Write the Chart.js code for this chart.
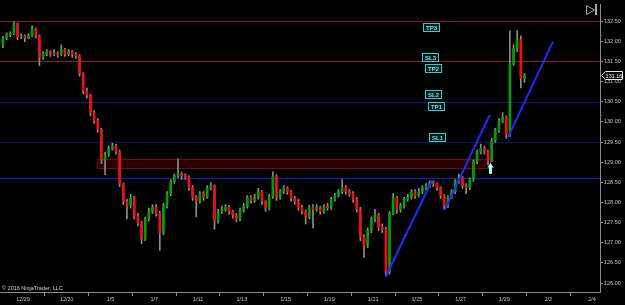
<!DOCTYPE html>
<html>
<head>
<meta charset="utf-8">
<script src="https://cdn.jsdelivr.net/npm/chart.js@4.4.0/dist/chart.umd.min.js"></script>
<style>
html, body { margin: 0; padding: 0; background: #000; }
canvas { display: block; }
</style>
</head>
<body>
<canvas id="c" width="625" height="305"></canvas>
<script>
/* price bars (one bar ~ 1/6 of a trading day) */
var opens = [131.89,132.08,132.16,132.18,132.43,132.11,132.13,132.08,132.13,132.30,
 132.13,131.60,131.69,131.74,131.69,131.72,131.67,131.79,131.69,131.74,
 131.67,131.64,131.20,130.76,130.67,130.23,130.03,129.81,129.05,129.20,
 129.35,129.40,129.25,128.47,128.03,127.91,128.13,127.66,127.49,127.10,
 127.59,127.78,127.88,127.73,127.25,127.91,128.22,128.52,128.66,128.71,
 128.66,128.64,128.37,128.13,128.03,128.22,128.13,128.37,128.42,127.54,
 127.78,127.83,127.88,127.78,127.69,127.59,127.81,127.91,128.13,128.05,
 128.13,128.27,128.03,127.86,128.15,128.66,128.13,128.27,128.35,128.27,
 128.10,128.03,127.88,127.78,127.64,127.88,127.83,127.88,127.78,127.91,
 127.88,128.08,128.17,128.27,128.37,128.27,128.22,128.08,127.83,127.15,
 126.93,127.30,127.59,127.69,127.39,127.34,126.27,127.73,128.13,127.83,
 127.91,128.08,128.13,128.27,128.17,128.27,128.37,128.42,128.49,128.47,
 128.37,128.17,127.93,128.13,128.27,128.52,128.61,128.42,128.37,128.57,
 129.01,129.25,129.35,129.27,129.05,129.54,129.79,130.03,130.13,129.69,
 131.45,131.82,132.04,131.08];
var highs = [132.12,132.21,132.23,132.48,132.45,132.18,132.16,132.18,132.38,132.33,
 132.16,131.74,131.79,131.77,131.79,131.74,131.91,131.82,131.79,131.77,
 131.72,131.67,131.22,130.84,130.69,130.28,130.08,129.84,129.25,129.40,
 129.47,129.45,129.30,128.49,128.08,128.20,128.15,127.73,127.54,127.64,
 127.86,127.95,127.95,127.78,127.98,128.27,128.57,128.71,129.08,128.76,
 128.71,128.66,128.42,128.17,128.27,128.27,128.42,128.49,128.44,127.83,
 127.91,127.95,127.93,127.81,127.73,127.86,127.98,128.17,128.17,128.20,
 128.35,128.30,128.05,128.20,128.76,128.69,128.32,128.42,128.39,128.30,
 128.15,128.08,127.93,127.81,127.93,127.95,127.95,127.91,127.95,127.98,
 128.13,128.22,128.32,128.57,128.42,128.32,128.27,128.13,127.88,127.20,
 127.37,127.64,127.83,127.73,127.47,127.39,127.78,128.22,128.15,127.98,
 128.13,128.20,128.32,128.32,128.35,128.42,128.47,128.54,128.54,128.49,
 128.39,128.20,128.17,128.32,128.57,128.71,128.64,128.47,128.61,129.05,
 129.30,129.45,129.40,129.30,129.59,129.84,130.08,130.23,130.15,132.26,
 131.91,132.26,132.13,131.20];
var lows = [131.84,132.04,132.11,132.16,132.04,132.06,131.99,132.06,132.11,132.08,
 131.40,131.55,131.64,131.62,131.64,131.60,131.64,131.62,131.64,131.60,
 131.57,131.13,130.69,130.59,130.15,129.96,129.74,128.96,128.69,129.15,
 129.30,129.20,128.39,127.95,127.59,127.86,127.59,127.42,126.98,127.05,
 127.54,127.73,127.66,126.81,127.20,127.86,128.17,128.47,128.61,128.57,
 128.57,128.30,128.05,127.64,127.98,128.05,128.10,128.32,127.34,127.49,
 127.73,127.78,127.71,127.61,127.52,127.54,127.76,127.86,127.98,128.00,
 128.08,127.95,127.78,127.81,128.10,128.05,128.08,128.22,128.20,128.03,
 127.95,127.81,127.71,127.47,127.59,127.37,127.78,127.71,127.73,127.81,
 127.83,128.03,128.13,128.22,128.20,128.15,128.00,127.76,127.05,126.64,
 126.88,127.25,127.52,127.30,127.25,126.17,126.22,127.69,127.73,127.76,
 127.86,128.03,128.08,128.10,128.13,128.22,128.32,128.37,128.39,128.30,
 128.10,127.83,127.88,128.10,128.22,128.47,128.35,128.22,128.32,128.52,
 128.96,129.20,129.20,128.93,129.01,129.49,129.74,129.98,129.59,129.64,
 131.40,131.74,130.84,130.98];
var closes = [132.08,132.16,132.18,132.43,132.11,132.13,132.08,132.13,132.30,132.13,
 131.60,131.69,131.74,131.69,131.72,131.67,131.79,131.69,131.74,131.67,
 131.64,131.20,130.76,130.67,130.23,130.03,129.81,129.05,129.20,129.35,
 129.40,129.25,128.47,128.03,127.91,128.13,127.66,127.49,127.10,127.59,
 127.78,127.88,127.73,127.25,127.91,128.22,128.52,128.66,128.71,128.66,
 128.64,128.37,128.13,128.03,128.22,128.13,128.37,128.42,127.54,127.78,
 127.83,127.88,127.78,127.69,127.59,127.81,127.91,128.13,128.05,128.13,
 128.27,128.03,127.86,128.15,128.66,128.13,128.27,128.35,128.27,128.10,
 128.03,127.88,127.78,127.64,127.88,127.83,127.88,127.78,127.91,127.88,
 128.08,128.17,128.27,128.37,128.27,128.22,128.08,127.83,127.15,126.93,
 127.30,127.59,127.69,127.39,127.34,126.27,127.73,128.13,127.83,127.91,
 128.08,128.13,128.27,128.17,128.27,128.37,128.42,128.49,128.47,128.37,
 128.17,127.93,128.13,128.27,128.52,128.61,128.42,128.37,128.57,129.01,
 129.25,129.35,129.27,129.05,129.54,129.79,130.03,130.13,129.69,131.45,
 131.82,132.04,131.08,131.16];

/* axis labels */
var dateLabels = ["12/29","12/31","1/5","1/7","1/11","1/13","1/15","1/19","1/21","1/25","1/27","1/29","2/2","2/4"];
var yTicks = [126, 126.5, 127, 127.5, 128, 128.5, 129, 129.5, 130, 130.5, 131, 131.5, 132, 132.5];

/* drawing objects (bar index, price) */
var levelPrices = [132.5, 131.5, 130.5, 129.5, 128.6];
var levelColors = ["#861828", "#9a1426", "#14148e", "#0e0e6e", "#1616d8"];
var zoneBars = [25.8, 133.5];
var zonePrices = [128.86, 129.08];
var trendStart = [[105.0, 126.17], [121.2, 127.83], [138.5, 129.62]];
var trendEnd = [[117.6, 128.54], [133.5, 130.18], [150.8, 131.99]];
var tagNames = ["TP3", "SL3", "TP2", "SL2", "TP1", "SL1"];
var tagBars = [117.4, 117.1, 117.8, 117.9, 118.6, 119.0];
var tagPrices = [132.34, 131.62, 131.33, 130.69, 130.39, 129.63];
var signalBar = 133.5;
var signalPrices = [128.71, 128.98];
var lastPrice = 131.16;

var FONT = "Liberation Sans";
var BARS_PER_DAY = 6, FIRST_DAY_BAR = 5.5;

var wickData = closes.map(function(c, i) { return { x: i, y: [lows[i], highs[i]] }; });
var bodyData = closes.map(function(c, i) { return { x: i, y: [opens[i], c] }; });
var bodyColors = closes.map(function(c, i) { return c >= opens[i] ? "#00a000" : "#f01010"; });

var overlay = {
  id: "overlay",
  beforeDraw: function(ch) {
    var c = ch.ctx;
    c.save();
    c.fillStyle = "#000";
    c.fillRect(0, 0, ch.width, ch.height);
    c.restore();
  },
  beforeDatasetsDraw: function(ch) {
    var c = ch.ctx, xs = ch.scales.x, ys = ch.scales.y, a = ch.chartArea;
    c.save();
    // zone
    var zx0 = xs.getPixelForValue(zoneBars[0]), zx1 = xs.getPixelForValue(zoneBars[1]);
    var zy0 = ys.getPixelForValue(zonePrices[1]), zy1 = ys.getPixelForValue(zonePrices[0]);
    c.fillStyle = "#2c0000";
    c.fillRect(zx0, zy0, zx1 - zx0, zy1 - zy0);
    c.strokeStyle = "#740c0c";
    c.lineWidth = 1;
    c.strokeRect(Math.round(zx0) + .5, Math.round(zy0) + .5, Math.round(zx1 - zx0), Math.round(zy1 - zy0));
    // levels
    levelPrices.forEach(function(p, i) {
      var y = Math.round(ys.getPixelForValue(p)) + .5;
      c.strokeStyle = levelColors[i];
      c.lineWidth = 1;
      c.beginPath();
      c.moveTo(a.left, y);
      c.lineTo(a.right, y);
      c.stroke();
    });
    c.restore();
  },
  afterDatasetsDraw: function(ch) {
    var c = ch.ctx, xs = ch.scales.x, ys = ch.scales.y;
    c.save();
    // trend lines
    c.strokeStyle = "#1e2cff";
    c.lineWidth = 2;
    trendStart.forEach(function(s, i) {
      var e = trendEnd[i];
      c.beginPath();
      c.moveTo(xs.getPixelForValue(s[0]), ys.getPixelForValue(s[1]));
      c.lineTo(xs.getPixelForValue(e[0]), ys.getPixelForValue(e[1]));
      c.stroke();
    });
    // target / stop tags
    c.font = "bold 6px " + FONT;
    c.textAlign = "center";
    c.textBaseline = "middle";
    tagNames.forEach(function(t, i) {
      var x = Math.round(xs.getPixelForValue(tagBars[i])), y = Math.round(ys.getPixelForValue(tagPrices[i]));
      c.fillStyle = "#031212";
      c.fillRect(x - 8, y - 4, 17, 9);
      c.strokeStyle = "#22d6d6";
      c.lineWidth = 1;
      c.strokeRect(x - 8 + .5, y - 4 + .5, 16, 8);
      c.fillStyle = "#5ff0f0";
      c.fillText(t, x + .5, y + 1);
    });
    // signal arrow
    var ax = Math.round(xs.getPixelForValue(signalBar));
    var ay0 = ys.getPixelForValue(signalPrices[0]), ay1 = ys.getPixelForValue(signalPrices[1]);
    c.fillStyle = "#b0ffff";
    c.fillRect(ax - 1, ay1 + 4, 3, ay0 - ay1 - 4);
    c.beginPath();
    c.moveTo(ax + .5, ay1);
    c.lineTo(ax + 3.5, ay1 + 4.5);
    c.lineTo(ax - 2.5, ay1 + 4.5);
    c.closePath();
    c.fill();
    c.restore();
  },
  afterDraw: function(ch) {
    var c = ch.ctx, ys = ch.scales.y, a = ch.chartArea;
    c.save();
    // last price marker
    var py = Math.round(ys.getPixelForValue(lastPrice)) + .5;
    var px = a.right + 1.5;
    c.beginPath();
    c.moveTo(px, py);
    c.lineTo(px + 4, py - 4);
    c.lineTo(px + 21, py - 4);
    c.lineTo(px + 21, py + 4);
    c.lineTo(px + 4, py + 4);
    c.closePath();
    c.fillStyle = "#000";
    c.fill();
    c.strokeStyle = "#e6e6e6";
    c.lineWidth = 1;
    c.stroke();
    c.fillStyle = "#ffffff";
    c.font = "5.5px " + FONT;
    c.textAlign = "center";
    c.textBaseline = "middle";
    c.fillText(lastPrice.toFixed(2), px + 12.5, py + .5);
    // scroll-to-end icon
    c.strokeStyle = "#a8a8a8";
    c.lineWidth = 1;
    c.beginPath();
    c.moveTo(586.5, 5.5);
    c.lineTo(594.5, 10);
    c.lineTo(586.5, 14.5);
    c.closePath();
    c.stroke();
    c.fillStyle = "#a8a8a8";
    c.fillRect(595, 4, 2, 11);
    // copyright
    c.fillStyle = "#d0d0d0";
    c.font = "5.5px " + FONT;
    c.textAlign = "left";
    c.textBaseline = "alphabetic";
    c.fillText("\u00a9 2016 NinjaTrader, LLC", 2, 290);
    c.restore();
  }
};

new Chart(document.getElementById("c"), {
  type: "bar",
  data: {
    datasets: [{
      data: wickData,
      backgroundColor: "#8c8c8c",
      barThickness: 1,
      grouped: false,
      order: 2
    }, {
      data: bodyData,
      backgroundColor: bodyColors,
      barThickness: 2,
      minBarLength: 1,
      grouped: false,
      order: 1
    }]
  },
  options: {
    responsive: false,
    animation: false,
    devicePixelRatio: 1,
    layout: { padding: 0 },
    scales: {
      x: {
        type: "linear",
        offset: false,
        min: -0.81,
        max: 163.7,
        afterBuildTicks: function(s) {
          var t = [];
          for (var k = 0; k <= (dateLabels.length - 1) * 2; k++) t.push({ value: FIRST_DAY_BAR + k * BARS_PER_DAY });
          s.ticks = t;
        },
        afterFit: function(s) { s.height = 13; },
        ticks: {
          autoSkip: false,
          maxRotation: 0,
          padding: 0,
          color: "#c4c4c4",
          font: { size: 5.5, family: FONT },
          callback: function(v, i) { return i % 2 === 0 ? dateLabels[i / 2] : ""; }
        },
        grid: {
          offset: false,
          drawOnChartArea: false,
          tickLength: 4,
          color: function(ctx) { return ctx.index % 2 ? "#8c8c8c" : "rgba(0,0,0,0)"; }
        },
        border: { color: "#8c8c8c" }
      },
      y: {
        type: "linear",
        position: "right",
        min: 125.78,
        max: 132.915,
        afterBuildTicks: function(s) {
          s.ticks = yTicks.map(function(v) { return { value: v }; });
        },
        afterFit: function(s) { s.width = 25; },
        ticks: {
          padding: 1,
          color: "#c4c4c4",
          font: { size: 5.5, family: FONT },
          callback: function(v) { return Number(v).toFixed(2); }
        },
        grid: { drawOnChartArea: false, tickLength: 3, color: "#8c8c8c" },
        border: { color: "#8c8c8c" }
      }
    },
    plugins: {
      legend: { display: false },
      tooltip: { enabled: false }
    }
  },
  plugins: [overlay]
});
</script>
</body>
</html>
